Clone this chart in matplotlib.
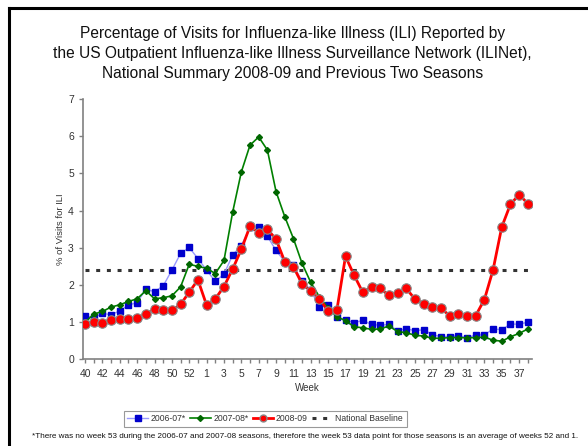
import matplotlib
matplotlib.use("Agg")
import matplotlib.pyplot as plt
from matplotlib.lines import Line2D

plt.rcParams['font.family'] = ['Liberation Sans', 'DejaVu Sans']

# Weeks of the season: 40..53 then 1..38
weeks = list(range(40, 54)) + list(range(1, 39))

ili_2006_07 = [1.17, 1.13, 1.24, 1.20, 1.31, 1.46, 1.53, 1.89, 1.82, 1.98,
               2.40, 2.85, 3.01, 2.71, 2.40, 2.10, 2.29, 2.81, 3.06, 3.55,
               3.56, 3.31, 2.93, 2.63, 2.53, 2.10, 1.86, 1.41, 1.47, 1.15,
               1.06, 0.99, 1.05, 0.94, 0.92, 0.94, 0.77, 0.83, 0.77, 0.80,
               0.67, 0.61, 0.61, 0.64, 0.58, 0.66, 0.66, 0.82, 0.80, 0.95,
               0.95, 1.00]

ili_2007_08 = [1.00, 1.22, 1.29, 1.41, 1.47, 1.56, 1.63, 1.85, 1.63, 1.66,
               1.71, 1.95, 2.56, 2.50, 2.45, 2.31, 2.66, 3.96, 5.04, 5.76,
               5.98, 5.63, 4.51, 3.84, 3.25, 2.58, 2.07, 1.68, 1.38, 1.15,
               1.04, 0.88, 0.85, 0.81, 0.82, 0.90, 0.75, 0.72, 0.65, 0.63,
               0.57, 0.57, 0.59, 0.59, 0.58, 0.59, 0.60, 0.52, 0.49, 0.61,
               0.70, 0.82]

ili_2008_09 = [0.95, 1.00, 0.99, 1.05, 1.08, 1.08, 1.12, 1.21, 1.36, 1.32,
               1.32, 1.48, 1.81, 2.14, 1.46, 1.63, 1.96, 2.43, 2.96, 3.58,
               3.41, 3.50, 3.23, 2.63, 2.49, 2.03, 1.84, 1.63, 1.30, 1.32,
               2.77, 2.26, 1.80, 1.95, 1.91, 1.72, 1.79, 1.91, 1.62, 1.50,
               1.42, 1.37, 1.18, 1.23, 1.16, 1.18, 1.61, 2.41, 3.56, 4.17,
               4.43, 4.19]

national_baseline = 2.4

title = ("Percentage of Visits for Influenza-like Illness (ILI) Reported by\n"
         "the US Outpatient Influenza-like Illness Surveillance Network (ILINet),\n"
         "National Summary 2008-09 and Previous Two Seasons")
footnote = ("*There was no week 53 during the 2006-07 and 2007-08 seasons, therefore the week 53 "
            "data point for those seasons is an average of weeks 52 and 1.")

fig = plt.figure(figsize=(5.88, 4.46), dpi=100)
ax = fig.add_axes([0.141, 0.194, 0.764, 0.584])

x = list(range(len(weeks)))

ax.plot(x, [national_baseline] * len(x), color='#333333', linestyle=(0, (1.3, 2.2)),
        linewidth=2.2, label='National Baseline', zorder=2)
ax.plot(x, ili_2006_07, color='#9999ff', linewidth=1.0, marker='s', markersize=4.2,
        markerfacecolor='#0000cc', markeredgecolor='#0000cc', label='2006-07*', zorder=3)
ax.plot(x, ili_2007_08, color='#008000', linewidth=1.2, marker='D', markersize=3.0,
        markerfacecolor='#006600', markeredgecolor='#006600', label='2007-08*', zorder=4)
ax.plot(x, ili_2008_09, color='#ff0000', linewidth=2.0, marker='o', markersize=6.8,
        markerfacecolor='#ff0000', markeredgecolor='#888888', markeredgewidth=0.8,
        label='2008-09', zorder=5)

ax.set_xlim(-0.25, len(x) - 0.5)
ax.set_ylim(0, 7)
ax.set_yticks(range(0, 8))
ax.set_xticks(x)
ax.set_xticklabels([str(w) if i % 2 == 0 else '' for i, w in enumerate(weeks)])

for side in ['top', 'right']:
    ax.spines[side].set_visible(False)
for side in ['left', 'bottom']:
    ax.spines[side].set_color('#808080')
    ax.spines[side].set_linewidth(1.2)
ax.tick_params(axis='both', colors='#808080', labelcolor='#333333', labelsize=7.5,
               length=3, width=1)
ax.tick_params(axis='x', pad=4)

ax.set_xlabel('Week', fontsize=7, color='#333333', labelpad=3)
ax.set_ylabel('% of Visits for ILI', fontsize=6.8, color='#333333', labelpad=2)

fig.text(0.497, 0.942, title, ha='center', va='top', fontsize=11.2,
         linespacing=1.42, color='#111111')

handles = [
    Line2D([], [], color='#9999ff', linewidth=1.0, marker='s', markersize=4,
           markerfacecolor='#0000cc', markeredgecolor='#0000cc'),
    Line2D([], [], color='#008000', linewidth=1.2, marker='D', markersize=3,
           markerfacecolor='#006600', markeredgecolor='#006600'),
    Line2D([], [], color='#ff0000', linewidth=2.0, marker='o', markersize=5,
           markerfacecolor='#ff0000', markeredgecolor='#888888'),
    Line2D([], [], color='#333333', linestyle=(0, (1.3, 2.2)), linewidth=2.2),
]
labels = ['2006-07*', '2007-08*', '2008-09', 'National Baseline']
leg = fig.legend(handles, labels, loc='center', bbox_to_anchor=(0.451, 0.061),
                 ncol=4, fontsize=6.2, frameon=True, fancybox=False,
                 handlelength=2.4, handletextpad=0.3, columnspacing=0.5,
                 borderpad=0.4, edgecolor='#808080')
leg.get_frame().set_linewidth(0.8)
for t in leg.get_texts():
    t.set_color('#333333')

fig.text(0.518, 0.022, footnote, ha='center', va='center', fontsize=5.85, color='#111111')

# partial black frame (top and left edges visible)
fig.add_artist(Line2D([0.016, 0.016], [0.0, 0.982], transform=fig.transFigure,
                      color='black', linewidth=2.2))
fig.add_artist(Line2D([0.016, 1.0], [0.982, 0.982], transform=fig.transFigure,
                      color='black', linewidth=2.2))

fig.savefig('out.png', dpi=100)
